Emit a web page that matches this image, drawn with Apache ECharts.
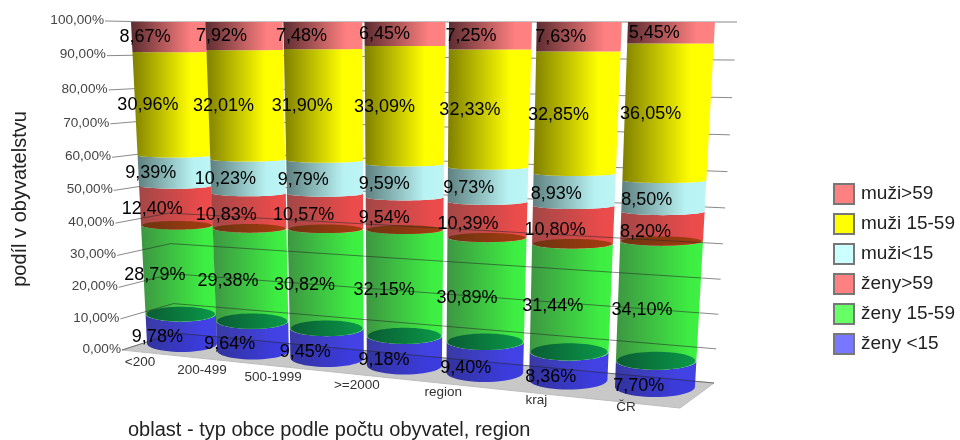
<!DOCTYPE html>
<html><head><meta charset="utf-8">
<style>html,body{margin:0;padding:0;background:#fff}#c{width:960px;height:440px}</style>
<script src="https://cdn.jsdelivr.net/npm/echarts@6/dist/echarts.min.js"></script>
</head><body><div id="c"></div>
<script>
var categories = ['<200','200-499','500-1999','>=2000','region','kraj','ČR'];
var zenyPod15  = [9.78, 9.64, 9.45, 9.18, 9.40, 8.36, 7.70];
var zeny1559   = [28.79, 29.38, 30.82, 32.15, 30.89, 31.44, 34.10];
var zenyNad59  = [12.40, 10.83, 10.57, 9.54, 10.39, 10.80, 8.20];
var muziPod15  = [9.39, 10.23, 9.79, 9.59, 9.73, 8.93, 8.50];
var muzi1559   = [30.96, 32.01, 31.90, 33.09, 32.33, 32.85, 36.05];
var muziNad59  = [8.67, 7.92, 7.48, 6.45, 7.25, 7.63, 5.45];
var tickValues = [0,10,20,30,40,50,60,70,80,90,100];

var F = '"Liberation Sans", Arial, sans-serif';
var chart = echarts.init(document.getElementById('c'), null, {renderer:'canvas'});
var G = {left:130, top:22, width:560, height:330};

// perspective projection of grid pixels to the picture plane
function frac(gy){ var t=(G.top+G.height-gy)/G.height; t=Math.max(0,Math.min(1,t)); return (1-t)+0.06*t*(1-t); }
function uOf(gx){ return (gx-G.left)/G.width*7-0.5; }
function proj(gx,gy){
  var u=uOf(gx), s=frac(gy);
  var xT=168.5+75.5*u+3.33*u*(u-1)/2, xB=182+71*u+3.13*u*(u-1)/2;
  var hwT=37.5+1.0*u, hwB=35+0.83*u, yB=352+7.5*u;
  var bMax=8.5+0.25*u;
  return {u:u,s:s,xc:xT+(xB-xT)*s,hw:hwT+(hwB-hwT)*s,y:22+(yB-22)*s,b:bMax*Math.pow(s,1.5)};
}
function wall(gy){
  var s=frac(gy);
  return {L:[105+17*s,21+329*s],C:[160+15*s,22+311*s],R:[737-23*s,22+361*s]};
}
function arc(p,rev){
  var pts=[],n=24;
  for(var k=0;k<=n;k++){var a=Math.PI*k/n; pts.push([p.xc+p.hw*Math.cos(a),p.y-p.b+p.b*Math.sin(a)]);}
  return rev?pts.reverse():pts;
}
function grad(st){ var c=[];for(var i=0;i<st.length;i++)c.push({offset:st[i][0],color:st[i][1]}); return new echarts.graphic.LinearGradient(0,0,1,0,c); }

var segs=[
 {name:'ženy <15',vals:zenyPod15,legend:'#7777ff',z:2,stops:[[0,'rgba(30,30,150,.88)'],[.8,'rgba(40,40,225,.88)'],[1,'rgba(40,40,225,.88)']]},
 {name:'ženy 15-59',vals:zeny1559,legend:'#66ff66',z:2,cap:[[0,'#0a5c34'],[1,'#0a9a48']],stops:[[0,'rgba(35,135,40,.88)'],[.85,'rgba(35,235,40,.88)'],[1,'rgba(35,240,40,.88)']]},
 {name:'ženy>59',vals:zenyNad59,legend:'#ff8080',z:2,cap:[[0,'#6c3410'],[1,'#a83c10']],stops:[[0,'rgba(150,45,45,.88)'],[.85,'rgba(232,50,50,.88)'],[1,'rgba(236,50,50,.88)']]},
 {name:'muži<15',vals:muziPod15,legend:'#ccffff',z:4,stops:[[0,'#5f8080'],[.75,'#b8f2f2'],[1,'#bdf5f5']]},
 {name:'muži 15-59',vals:muzi1559,legend:'#ffff00',z:4,stops:[[0,'#808000'],[.75,'#ffff00'],[1,'#ffff00']]},
 {name:'muži>59',vals:muziNad59,legend:'#ff8080',z:4,stops:[[0,'#5c2c30'],[.8,'#ff8080'],[1,'#ff8080']]}
];
var running=categories.map(function(){return 0;});
var labelRows=[];
var series=[];
segs.forEach(function(seg){
  var rows=categories.map(function(c,i){
    var lo=running[i], hi=lo+seg.vals[i]; running[i]=hi;
    labelRows.push([i,lo,hi,seg.vals[i]]);
    return [i,lo,hi];
  });
  series.push({
    name:seg.name,type:'custom',z:seg.z,silent:true,coordinateSystem:'cartesian2d',clip:false,
    itemStyle:{color:seg.legend,borderColor:'#777',borderWidth:1},
    data:rows,encode:{x:0,y:[1,2]},
    renderItem:function(params,api){
      var a=api.coord([api.value(0),api.value(1)]), b=api.coord([api.value(0),api.value(2)]);
      var lo=proj(a[0],a[1]), hi=proj(b[0],b[1]);
      // polygon: lower front arc (right to left) then upper front arc (left to right)
      var pts=arc(lo,false).concat(arc(hi,true));
      var kids=[{type:'polygon',shape:{points:pts},style:{fill:grad(seg.stops),stroke:null}}];
      if(seg.cap) kids.push({type:'ellipse',shape:{cx:lo.xc,cy:lo.y-lo.b,rx:lo.hw*0.97,ry:lo.b},style:{fill:grad(seg.cap)}});
      return {type:'group',children:kids};
    }
  });
});
// floor
series.push({
  name:'floor',type:'custom',z:1,silent:true,clip:false,coordinateSystem:'cartesian2d',
  data:[[0,0]],encode:{x:0,y:1},
  renderItem:function(params,api){
    var w=wall(api.coord([0,api.value(1)])[1]);
    return {type:'polygon',shape:{points:[w.L,w.C,w.R,[w.R[0]-34,w.R[1]+25]]},style:{fill:'#c8c8c8',stroke:'#bdbdbd',lineWidth:1}};
  }
});
// gridlines on the walls and value-axis labels
series.push({
  name:'walls',type:'custom',z:3,silent:true,clip:false,coordinateSystem:'cartesian2d',
  data:tickValues.map(function(v){return [0,v];}),encode:{x:0,y:1},
  renderItem:function(params,api){
    var v=api.value(1), w=wall(api.coord([0,v])[1]);
    return {type:'group',children:[
      {type:'polyline',shape:{points:[w.L,w.C,w.R]},style:{stroke:'rgba(40,40,40,.55)',lineWidth:1,fill:null}},
      {type:'text',style:{x:w.L[0]-1,y:w.L[1]-1,text:v.toFixed(2).replace('.',',')+'%',align:'right',verticalAlign:'middle',font:'13.6px '+F,fill:'#444'}}
    ]};
  }
});
// category labels
var catLabelDx=[-42,-51,-54,-47.5,-41.5,-32,-29];
series.push({
  name:'categoryLabels',type:'custom',z:5,silent:true,clip:false,coordinateSystem:'cartesian2d',
  data:categories.map(function(c,i){return [i,0];}),encode:{x:0,y:1},
  renderItem:function(params,api){
    var i=api.value(0), p=proj.apply(null,api.coord([i,0]));
    return {type:'text',style:{x:p.xc+catLabelDx[i],y:p.y+10.5,text:categories[i],align:'center',verticalAlign:'middle',font:'13.5px '+F,fill:'#333'}};
  }
});
// value labels
series.push({
  name:'valueLabels',type:'custom',z:6,silent:true,clip:false,coordinateSystem:'cartesian2d',
  data:labelRows,encode:{x:0,y:[1,2]},
  renderItem:function(params,api){
    var i=api.value(0);
    var lo=proj.apply(null,api.coord([i,api.value(1)])), hi=proj.apply(null,api.coord([i,api.value(2)]));
    return {type:'text',style:{x:(lo.xc+hi.xc)/2-24+1.2*lo.u,y:(lo.y+hi.y)/2+0.4*lo.u*lo.s,text:api.value(3).toFixed(2).replace('.',',')+'%',align:'center',verticalAlign:'middle',font:'18px '+F,fill:'#000'}};
  }
});

chart.setOption({
  animation:false,backgroundColor:'#fff',
  grid:{left:G.left,top:G.top,width:G.width,height:G.height,containLabel:false},
  xAxis:{type:'category',data:categories,show:false,boundaryGap:true},
  yAxis:{type:'value',min:0,max:100,interval:10,show:false},
  legend:{orient:'vertical',left:828,top:178,icon:'rect',itemWidth:20,itemHeight:20,itemGap:8,selectedMode:false,
    data:['muži>59','muži 15-59','muži<15','ženy>59','ženy 15-59','ženy <15'],
    textStyle:{fontFamily:F,fontSize:19,lineHeight:20,color:'#222',padding:[0,0,0,2]}},
  graphic:[
    {type:'text',left:128,top:420,style:{text:'oblast - typ obce podle počtu obyvatel, region',font:'20px '+F,fill:'#222'}},
    {type:'text',x:20,y:199,rotation:Math.PI/2,style:{text:'podíl v obyvatelstvu',font:'20px '+F,fill:'#222',align:'center',verticalAlign:'middle'}}
  ],
  series:series
});
</script></body></html>
